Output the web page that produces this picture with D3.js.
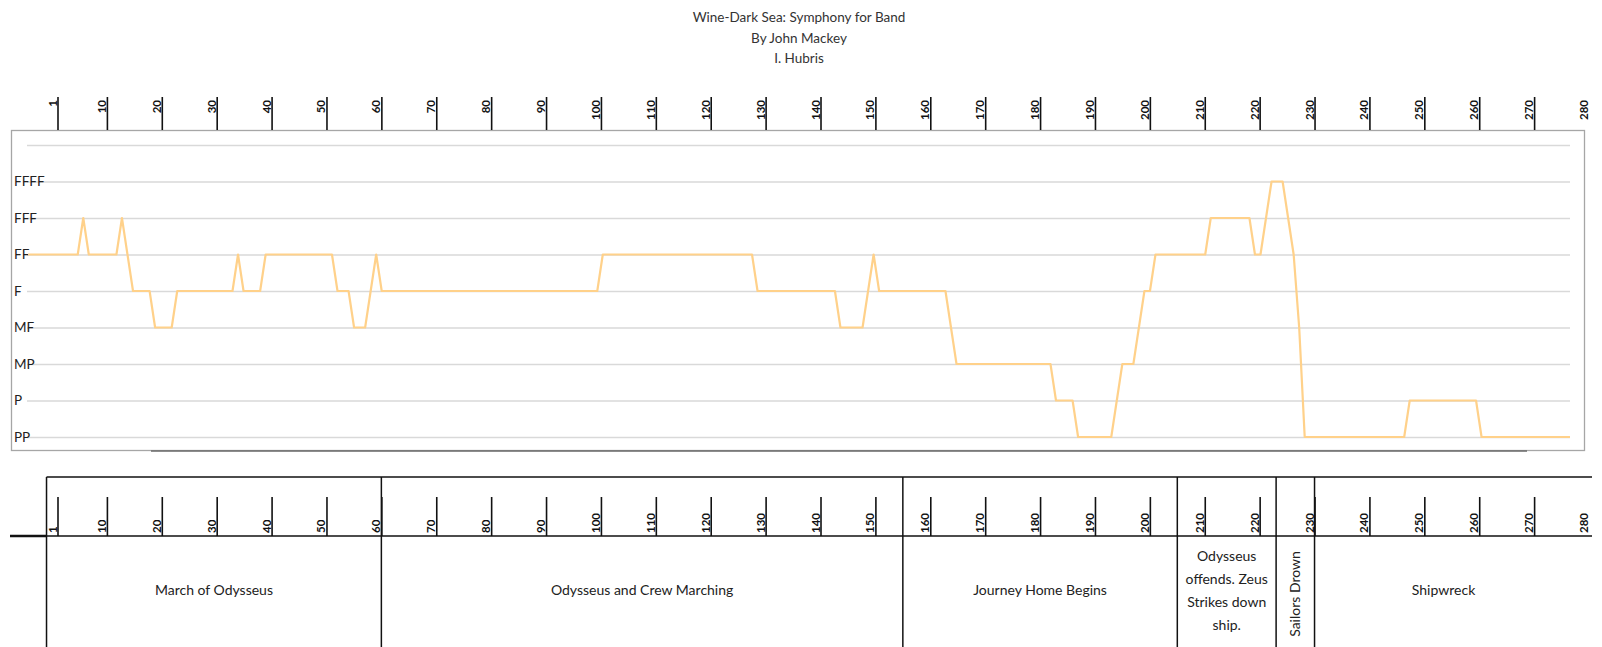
<!DOCTYPE html>
<html>
<head>
<meta charset="utf-8">
<script src="https://cdn.jsdelivr.net/npm/d3@7"></script>
<style>
    body { margin: 0; background: #ffffff; }
    text { font-family: Lato, "Open Sans", sans-serif; }
</style>
</head>
<body>
<script>
// Dynamic levels, bottom to top
var levels = ["PP", "P", "MP", "MF", "F", "FF", "FFF", "FFFF"];

// Breakpoints of the dynamics line (measure number, dynamic)
var measures = [1, 10, 11, 12, 17, 18, 20, 23, 24, 27, 28, 38, 39, 40, 43, 44,
                56, 57, 59, 60, 62, 64, 65, 104, 105, 132, 133, 147, 148, 152, 154, 155,
                167, 169, 186, 187, 190, 191, 197, 199, 201, 203, 204, 205, 214, 215,
                222, 223, 224, 226, 228, 230, 231, 232, 250, 251, 263, 264, 280];
var dynamics = ["FF", "FF", "FFF", "FF", "FF", "FFF", "F", "F", "MF", "MF", "F", "F", "FF", "F", "F", "FF",
                "FF", "F", "F", "MF", "MF", "FF", "F", "F", "FF", "FF", "F", "F", "MF", "MF", "FF", "F",
                "F", "MP", "MP", "P", "P", "PP", "PP", "MP", "MP", "F", "F", "FF", "FF", "FFF",
                "FFF", "FF", "FF", "FFFF", "FFFF", "FF", "MF", "PP", "PP", "P", "P", "PP", "PP"];

// Measure ruler
var rulerTicks = [1, 10, 20, 30, 40, 50, 60, 70, 80, 90, 100, 110, 120, 130, 140,
                  150, 160, 170, 180, 190, 200, 210, 220, 230, 240, 250, 260, 270, 280];

// Sections of the piece (measure ranges)
var sectionNames = [["March of Odysseus"], ["Odysseus and Crew Marching"], ["Journey Home Begins"],
                    ["Odysseus", "offends. Zeus", "Strikes down", "ship."], ["Sailors Drown"], ["Shipwreck"]];
var sectionStarts = [-1, 60, 155, 205, 223, 230];
var sectionEnds = [60, 155, 205, 223, 230, 277];

var titleLines = ["Wine-Dark Sea: Symphony for Band", "By John Mackey", "I. Hubris"];

var W = 1602, H = 647;

var svg = d3.select("body").append("svg")
    .attr("width", W)
    .attr("height", H);

// Title
svg.selectAll(".title")
    .data(titleLines)
    .enter()
    .append("text")
    .attr("class", "title")
    .attr("x", 799)
    .attr("y", function (d, i) { return 22 + i * 20.5; })
    .attr("text-anchor", "middle")
    .style("font-size", "13.5px")
    .style("fill", "#333")
    .text(function (d) { return d; });

// Scales
var x = d3.scaleLinear().domain([1, 280]).range([28, 1570]);
var y = d3.scaleLinear().domain([1, 9]).range([437, 145]);
var ruler = d3.scaleLinear().domain([1, 280]).range([57.5, 1589]);

// Chart frame
svg.append("rect")
    .attr("x", 11.5)
    .attr("y", 130.5)
    .attr("width", 1573)
    .attr("height", 320)
    .style("fill", "white")
    .style("stroke", "#a6a6a6")
    .style("stroke-width", 1.3);

// leftover axis line under the frame
svg.append("line")
    .attr("x1", 151).attr("x2", 1527)
    .attr("y1", 451).attr("y2", 451)
    .style("stroke", "#6b6b6b")
    .style("stroke-width", 1.5);

// Gridlines + dynamic labels
var yAxis = svg.append("g")
    .attr("transform", "translate(27,0)")
    .call(d3.axisLeft(y)
        .tickValues([1, 2, 3, 4, 5, 6, 7, 8, 9])
        .tickSize(-1543)
        .tickFormat(function (d) { return levels[d - 1] || ""; }));

yAxis.select(".domain").remove();
yAxis.selectAll(".tick line")
    .style("stroke", "#d9d9d9")
    .style("stroke-width", 1.5);
yAxis.selectAll(".tick text")
    .attr("x", -13)
    .attr("text-anchor", "start")
    .style("font-family", "Lato, sans-serif")
    .style("font-size", "13.5px")
    .style("fill", "#222");

// Dynamics line
var line = d3.line()
    .x(function (d, i) { return x(measures[i]); })
    .y(function (d) { return y(levels.indexOf(d) + 1); });

svg.append("path")
    .datum(dynamics)
    .attr("d", line)
    .style("fill", "none")
    .style("stroke", "#ffd18a")
    .style("stroke-width", 2.2)
    .style("stroke-linejoin", "round");

// Ruler helper: rotated labels beside each tick
function drawRuler(yPos, size, anchor, offset)
{
    var g = svg.append("g")
        .attr("transform", "translate(0," + yPos + ")")
        .call(d3.axisTop(ruler).tickValues(rulerTicks).tickSize(size));

    g.select(".domain").remove();
    g.selectAll(".tick line")
        .style("stroke", "#111")
        .style("stroke-width", 1.6)
        .style("display", function (d) { return d == 280 ? "none" : null; });
    g.selectAll(".tick text")
        .attr("transform", "rotate(-90)")
        .attr("x", offset)
        .attr("y", -1.5)
        .attr("dy", "0")
        .attr("text-anchor", anchor)
        .style("font-family", "Lato, sans-serif")
        .style("font-weight", "bold")
        .style("font-size", "11.5px")
        .style("fill", "#111");
    return g;
}

// Top ruler
drawRuler(130, 33, "end", 30);

// Bottom table
var tableTop = 477, rulerBase = 536;

svg.append("line")
    .attr("x1", ruler(sectionStarts[0])).attr("x2", 1592)
    .attr("y1", tableTop).attr("y2", tableTop)
    .style("stroke", "#111").style("stroke-width", 1.5);

svg.append("line")
    .attr("x1", 10).attr("x2", ruler(sectionStarts[0]))
    .attr("y1", rulerBase).attr("y2", rulerBase)
    .style("stroke", "#111").style("stroke-width", 2.5);

svg.append("line")
    .attr("x1", ruler(sectionStarts[0])).attr("x2", 1592)
    .attr("y1", rulerBase).attr("y2", rulerBase)
    .style("stroke", "#111").style("stroke-width", 1.5);

drawRuler(rulerBase, 39, "start", 3);

// Section dividers
svg.selectAll(".divider")
    .data(sectionStarts)
    .enter()
    .append("line")
    .attr("class", "divider")
    .attr("x1", function (d) { return ruler(d); })
    .attr("x2", function (d) { return ruler(d); })
    .attr("y1", tableTop)
    .attr("y2", H)
    .style("stroke", "#111")
    .style("stroke-width", 1.5);

// Section names
var labels = svg.selectAll(".section")
    .data(sectionNames)
    .enter()
    .append("text")
    .attr("class", "section")
    .attr("text-anchor", "middle")
    .style("font-size", "14px")
    .style("fill", "#222")
    .attr("transform", function (d, i) {
        var cx = (ruler(sectionStarts[i]) + ruler(sectionEnds[i])) / 2;
        if (d[0] == "Sailors Drown") return "translate(" + (cx + 5) + ",594) rotate(-90)";
        return "translate(" + cx + "," + (595 - (d.length - 1) * 11.5) + ")";
    });

labels.selectAll("tspan")
    .data(function (d) { return d; })
    .enter()
    .append("tspan")
    .attr("x", 0)
    .attr("y", function (d, i) { return i * 23.3; })
    .text(function (d) { return d; });
</script>
</body>
</html>
